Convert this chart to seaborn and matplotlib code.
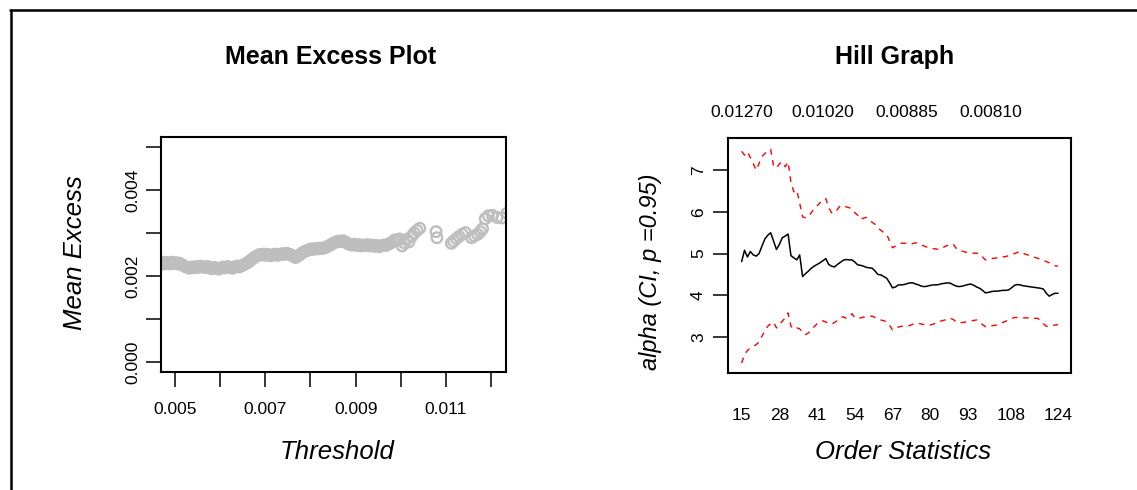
import matplotlib
matplotlib.use("Agg")
import matplotlib.pyplot as plt
import seaborn as sns
from matplotlib.lines import Line2D

# ---------------- data: Mean Excess Plot ----------------
threshold = [
    0.00470, 0.00474, 0.00478, 0.00482, 0.00486, 0.00490, 0.00494, 0.00498,
    0.00502, 0.00506, 0.00510, 0.00514, 0.00518, 0.00522, 0.00527, 0.00532,
    0.00537, 0.00542, 0.00547, 0.00552, 0.00557, 0.00562, 0.00567, 0.00572,
    0.00577, 0.00582, 0.00587, 0.00592, 0.00597, 0.00602, 0.00607, 0.00612,
    0.00617, 0.00622, 0.00627, 0.00632, 0.00637, 0.00642, 0.00647, 0.00652,
    0.00657, 0.00662, 0.00667, 0.00672, 0.00677, 0.00682, 0.00687, 0.00692,
    0.00697, 0.00702, 0.00707, 0.00712, 0.00717, 0.00722, 0.00727, 0.00732,
    0.00737, 0.00742, 0.00747, 0.00752, 0.00757, 0.00762, 0.00767, 0.00772,
    0.00777, 0.00782, 0.00787, 0.00792, 0.00797, 0.00802, 0.00807, 0.00812,
    0.00817, 0.00822, 0.00827, 0.00832, 0.00837, 0.00842, 0.00847, 0.00852,
    0.00857, 0.00862, 0.00867, 0.00872, 0.00877, 0.00882, 0.00887, 0.00892,
    0.00897, 0.00902, 0.00907, 0.00912, 0.00917, 0.00922, 0.00927, 0.00932,
    0.00937, 0.00942, 0.00947, 0.00952, 0.00957, 0.00962, 0.00967, 0.00972,
    0.00977, 0.00982, 0.00987, 0.00992, 0.00997,
    0.01003, 0.01008, 0.01013, 0.01018, 0.01024, 0.01030, 0.01036, 0.01042,
    0.01078, 0.01080, 0.01112, 0.01117, 0.01123, 0.01129, 0.01136, 0.01143,
    0.01157, 0.01163, 0.01170, 0.01176, 0.01181, 0.01187, 0.01194, 0.01203,
    0.01213, 0.01224, 0.01235,
]
mean_excess = [
    0.00230, 0.00228, 0.00232, 0.00229, 0.00231, 0.00228, 0.00232, 0.00230,
    0.00231, 0.00228, 0.00230, 0.00227, 0.00225, 0.00222, 0.00220, 0.00218,
    0.00221, 0.00219, 0.00222, 0.00220, 0.00223, 0.00221, 0.00220, 0.00222,
    0.00219, 0.00217, 0.00220, 0.00218, 0.00216, 0.00219, 0.00221, 0.00219,
    0.00222, 0.00220, 0.00218, 0.00221, 0.00223, 0.00221, 0.00224, 0.00226,
    0.00229, 0.00232, 0.00236, 0.00240, 0.00244, 0.00247, 0.00250, 0.00249,
    0.00251, 0.00248, 0.00250, 0.00247, 0.00249, 0.00251, 0.00248, 0.00250,
    0.00252, 0.00250, 0.00253, 0.00251, 0.00249, 0.00246, 0.00243, 0.00246,
    0.00250, 0.00254, 0.00257, 0.00259, 0.00261, 0.00263, 0.00262, 0.00264,
    0.00263, 0.00265, 0.00264, 0.00266, 0.00268, 0.00271, 0.00274, 0.00277,
    0.00279, 0.00281, 0.00280, 0.00282, 0.00279, 0.00276, 0.00273, 0.00272,
    0.00274, 0.00271, 0.00273, 0.00270, 0.00272, 0.00271, 0.00273, 0.00270,
    0.00272, 0.00269, 0.00271, 0.00268, 0.00270, 0.00272, 0.00271, 0.00274,
    0.00276, 0.00280, 0.00284, 0.00282, 0.00286,
    0.00270, 0.00277, 0.00285, 0.00279, 0.00292, 0.00300, 0.00306, 0.00311,
    0.00303, 0.00289, 0.00276, 0.00281, 0.00287, 0.00292, 0.00297, 0.00301,
    0.00289, 0.00293, 0.00297, 0.00303, 0.00310, 0.00333, 0.00340, 0.00341,
    0.00336, 0.00335, 0.00346,
]
me_xticks = [0.005, 0.006, 0.007, 0.008, 0.009, 0.010, 0.011, 0.012]
me_xtick_labels = ["0.005", "", "0.007", "", "0.009", "", "0.011", ""]
me_yticks = [0.000, 0.001, 0.002, 0.003, 0.004, 0.005]
me_ytick_labels = ["0.000", "", "0.002", "", "0.004", ""]

# ---------------- data: Hill Graph ----------------
order_stats = list(range(15, 125))
alpha_hat = [
    4.81, 5.08, 4.92, 5.05, 4.97, 4.94, 5.00, 5.18, 5.35, 5.44,
    5.50, 5.30, 5.10, 5.22, 5.38, 5.42, 5.47, 4.95, 4.90, 4.85,
    4.97, 4.45, 4.52, 4.58, 4.65, 4.70, 4.74, 4.78, 4.83, 4.88,
    4.74, 4.70, 4.68, 4.74, 4.79, 4.84, 4.86, 4.85, 4.85, 4.80,
    4.73, 4.72, 4.70, 4.67, 4.66, 4.65, 4.58, 4.50, 4.49, 4.45,
    4.41, 4.30, 4.18, 4.20, 4.25, 4.25, 4.26, 4.28, 4.30, 4.30,
    4.27, 4.25, 4.22, 4.21, 4.22, 4.24, 4.25, 4.25, 4.26, 4.28,
    4.29, 4.30, 4.29, 4.25, 4.22, 4.21, 4.22, 4.24, 4.26, 4.27,
    4.24, 4.20, 4.17, 4.12, 4.06, 4.07, 4.09, 4.10, 4.10, 4.11,
    4.12, 4.12, 4.13, 4.18, 4.24, 4.26, 4.25, 4.23, 4.22, 4.21,
    4.20, 4.19, 4.18, 4.17, 4.15, 4.05, 3.98, 4.02, 4.05, 4.05,
]
alpha_upper = [
    7.45, 7.36, 7.44, 7.30, 7.16, 7.00, 7.16, 7.32, 7.40, 7.46,
    7.50, 7.10, 7.05, 7.15, 7.20, 7.08, 7.20, 6.70, 6.48, 6.52,
    6.21, 5.88, 5.86, 5.88, 5.98, 6.08, 6.14, 6.22, 6.27, 6.32,
    6.10, 5.98, 5.97, 6.06, 6.15, 6.14, 6.12, 6.10, 6.08, 5.98,
    5.92, 5.82, 5.85, 5.87, 5.80, 5.75, 5.70, 5.61, 5.56, 5.50,
    5.46, 5.30, 5.14, 5.18, 5.22, 5.25, 5.25, 5.24, 5.23, 5.24,
    5.26, 5.24, 5.21, 5.18, 5.15, 5.13, 5.12, 5.11, 5.10, 5.12,
    5.17, 5.20, 5.24, 5.22, 5.12, 5.08, 5.06, 5.04, 5.02, 5.02,
    5.01, 5.01, 5.00, 4.92, 4.85, 4.86, 4.88, 4.89, 4.90, 4.91,
    4.92, 4.93, 4.95, 4.97, 5.00, 5.03, 5.05, 5.01, 4.98, 4.96,
    4.94, 4.91, 4.89, 4.86, 4.84, 4.81, 4.78, 4.74, 4.71, 4.70,
]
alpha_lower = [
    2.38, 2.58, 2.68, 2.74, 2.78, 2.82, 2.88, 3.02, 3.15, 3.26,
    3.32, 3.36, 3.22, 3.30, 3.38, 3.46, 3.58, 3.26, 3.19, 3.22,
    3.20, 3.10, 3.06, 3.10, 3.17, 3.25, 3.32, 3.36, 3.39, 3.36,
    3.32, 3.31, 3.35, 3.40, 3.46, 3.49, 3.45, 3.50, 3.56, 3.46,
    3.45, 3.46, 3.48, 3.49, 3.50, 3.50, 3.47, 3.43, 3.41, 3.39,
    3.37, 3.28, 3.17, 3.20, 3.24, 3.26, 3.26, 3.26, 3.28, 3.31,
    3.34, 3.33, 3.31, 3.30, 3.29, 3.29, 3.31, 3.34, 3.37, 3.39,
    3.41, 3.43, 3.45, 3.42, 3.36, 3.34, 3.35, 3.36, 3.37, 3.38,
    3.40, 3.41, 3.36, 3.30, 3.25, 3.26, 3.27, 3.28, 3.29, 3.32,
    3.35, 3.38, 3.41, 3.44, 3.47, 3.47, 3.47, 3.46, 3.46, 3.46,
    3.45, 3.45, 3.45, 3.40, 3.32, 3.26, 3.25, 3.27, 3.29, 3.30,
]
hill_xticks = [15, 28, 41, 54, 67, 80, 93, 108, 124]
hill_yticks = [3, 4, 5, 6, 7]
top_tick_pos = [15, 43, 72, 101]
top_tick_labels = ["0.01270", "0.01020", "0.00885", "0.00810"]

# ---------------- style ----------------
sns.set_style("white")
plt.rcParams['font.family'] = ['Liberation Sans', 'DejaVu Sans']
plt.rcParams['axes.linewidth'] = 1.5
plt.rcParams['text.color'] = 'black'
plt.rcParams['axes.labelcolor'] = 'black'
plt.rcParams['xtick.color'] = 'black'
plt.rcParams['ytick.color'] = 'black'

W, H = 1137, 490
fig = plt.figure(figsize=(W / 100, H / 100), dpi=100)
fig.patch.set_facecolor("white")


def rect(x0, y0, x1, y1):
    return [x0 / W, 1 - y1 / H, (x1 - x0) / W, (y1 - y0) / H]


ax1 = fig.add_axes(rect(161, 137, 506, 372))
ax2 = fig.add_axes(rect(728, 138, 1071, 373))

TICK_FS = 12.5
LABEL_FS = 18.5

# ---- Mean excess plot ----
sns.scatterplot(x=threshold, y=mean_excess, ax=ax1, marker='o', s=58,
                facecolors='none', edgecolor='#BEBEBE', linewidth=1.7,
                legend=False)
ax1.set_xlim(0.00469, 0.01233)
ax1.set_ylim(-0.00023, 0.00523)
ax1.set_xticks(me_xticks, me_xtick_labels)
ax1.set_yticks(me_yticks, me_ytick_labels)
ax1.tick_params(axis='both', direction='out', length=10.8, width=1.1,
                colors='black', labelsize=TICK_FS, left=True, bottom=True)
ax1.tick_params(axis='x', pad=11)
ax1.tick_params(axis='y', pad=4, labelrotation=90)
for lab in ax1.get_yticklabels():
    lab.set_va('center')
ax1.set_xlabel("")
ax1.set_ylabel("")
for sp in ax1.spines.values():
    sp.set_color('black')
    sp.set_linewidth(1.5)

# ---- Hill graph ----
sns.lineplot(x=order_stats, y=alpha_hat, ax=ax2, color='black', linewidth=1.1)
sns.lineplot(x=order_stats, y=alpha_upper, ax=ax2, color='red', linewidth=1.0,
             linestyle=(0, (4, 4)))
sns.lineplot(x=order_stats, y=alpha_lower, ax=ax2, color='red', linewidth=1.0,
             linestyle=(0, (4, 4)))
ax2.set_xlim(10.3, 128.5)
ax2.set_ylim(2.14, 7.77)
ax2.set_xticks(hill_xticks, [str(v) for v in hill_xticks])
ax2.set_yticks(hill_yticks, [str(v) for v in hill_yticks])
ax2.tick_params(axis='x', length=0, pad=25, labelsize=TICK_FS, colors='black')
ax2.tick_params(axis='y', direction='out', length=10.8, width=1.1, pad=5,
                labelsize=TICK_FS, labelrotation=90, colors='black', left=True)
for lab in ax2.get_yticklabels():
    lab.set_va('center')
ax2.set_xlabel("")
ax2.set_ylabel("")
for sp in ax2.spines.values():
    sp.set_color('black')
    sp.set_linewidth(1.5)

sec = ax2.secondary_xaxis('top')
sec.set_xticks(top_tick_pos, top_tick_labels)
sec.tick_params(length=0, pad=13, labelsize=TICK_FS, colors='black')
sec.spines['top'].set_visible(False)

# ---- titles and axis labels ----
fig.text(331 / W, 1 - 57 / H, "Mean Excess Plot", ha='center', va='center',
         fontsize=18, fontweight='bold', color='black')
fig.text(895 / W, 1 - 57 / H, "Hill Graph", ha='center', va='center',
         fontsize=18, fontweight='bold', color='black')
fig.text(337 / W, 1 - 452 / H, "Threshold", ha='center', va='center',
         fontsize=LABEL_FS, style='italic', color='black')
fig.text(903 / W, 1 - 452 / H, "Order Statistics", ha='center', va='center',
         fontsize=LABEL_FS, style='italic', color='black')
fig.text(75 / W, 1 - 253 / H, "Mean Excess", ha='center', va='center',
         rotation=90, fontsize=LABEL_FS, style='italic', color='black')
fig.text(650 / W, 1 - 272 / H, "alpha (CI, p =0.95)", ha='center', va='center',
         rotation=90, fontsize=17, style='italic', color='black')

# ---- outer frame (top and left edges) ----
fig.add_artist(Line2D([10 / W, 1.0], [1 - 10.5 / H, 1 - 10.5 / H],
                      color='black', linewidth=1.8, transform=fig.transFigure))
fig.add_artist(Line2D([10.5 / W, 10.5 / W], [0.0, 1 - 10 / H],
                      color='black', linewidth=1.8, transform=fig.transFigure))

fig.savefig("out.png", dpi=100, facecolor='white')
